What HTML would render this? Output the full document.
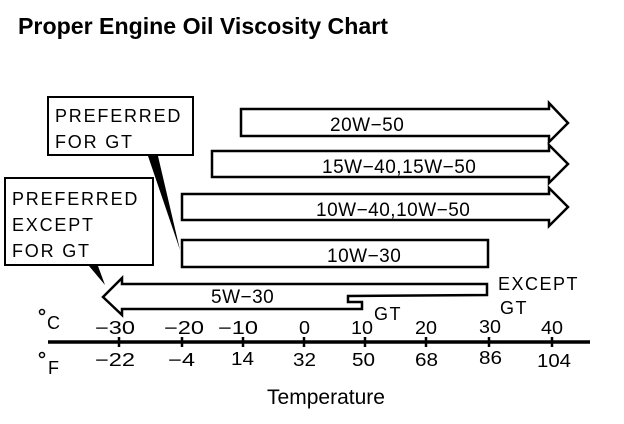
<!DOCTYPE html>
<html><head><style>
body{margin:0;background:#fff;}
svg{display:block;font-family:"Liberation Sans",sans-serif;}
</style></head><body>
<svg width="624" height="424" viewBox="0 0 624 424">
<text x="18" y="34" font-size="23" font-weight="bold" fill="#000" textLength="370" lengthAdjust="spacingAndGlyphs">Proper Engine Oil Viscosity Chart</text>
<g fill="#fff" stroke="#000" stroke-width="2.5" stroke-linejoin="miter">
<polygon points="241,109 549,109 549,103 568,123 549,142 549,136 241,136"/>
<polygon points="212,151 549,151 549,145 568,164 549,183 549,177 212,177"/>
<polygon points="182,194 549,194 549,188 568,207 549,226 549,220 182,220"/>
<rect x="182" y="240" width="306" height="27"/>
<polygon points="122,284 487,284 487,295 348,296 348,302 362,302 362,309 122,309 122,315 103,297 122,278"/>
</g>
<g font-size="19" fill="#000" letter-spacing="0.5">
<text x="330" y="131">20W−50</text>
<text x="322" y="173">15W−40,15W−50</text>
<text x="316" y="216">10W−40,10W−50</text>
<text x="327" y="262">10W−30</text>
<text x="211" y="303">5W−30</text>
</g>
<g font-size="18" fill="#000" letter-spacing="1.5">
<text x="498" y="290">EXCEPT</text>
<text x="500" y="314">GT</text>
<text x="374" y="320">GT</text>
</g>
<rect x="48" y="97" width="145" height="58" fill="#fff" stroke="#000" stroke-width="2"/>
<text x="55" y="122" font-size="18" letter-spacing="1.8">PREFERRED</text>
<text x="55" y="148" font-size="18" letter-spacing="1.8">FOR GT</text>
<polygon points="148,156 158,156 180,250" fill="#000"/>
<rect x="5" y="178" width="148" height="87" fill="#fff" stroke="#000" stroke-width="2"/>
<text x="12" y="205" font-size="18" letter-spacing="1.8">PREFERRED</text>
<text x="12" y="231" font-size="18" letter-spacing="1.8">EXCEPT</text>
<text x="12" y="257" font-size="18" letter-spacing="1.8">FOR GT</text>
<polygon points="89,266 98,266 105,285" fill="#000"/>
<line x1="48" y1="342" x2="590" y2="342" stroke="#000" stroke-width="3.5"/>
<g stroke="#000" stroke-width="2.5">
<line x1="119" y1="337" x2="119" y2="347"/><line x1="182" y1="337" x2="182" y2="347"/>
<line x1="243" y1="337" x2="243" y2="347"/><line x1="304" y1="337" x2="304" y2="347"/>
<line x1="365" y1="337" x2="365" y2="347"/><line x1="426" y1="337" x2="426" y2="347"/>
<line x1="489" y1="337" x2="489" y2="347"/><line x1="552" y1="337" x2="552" y2="347"/>
</g>
<g font-size="18" fill="#000" lengthAdjust="spacingAndGlyphs">
<text x="95" y="334" textLength="40" lengthAdjust="spacingAndGlyphs">−30</text>
<text x="164" y="334" textLength="40" lengthAdjust="spacingAndGlyphs">−20</text>
<text x="218" y="334" textLength="40" lengthAdjust="spacingAndGlyphs">−10</text>
<text x="299" y="334" textLength="11" lengthAdjust="spacingAndGlyphs">0</text>
<text x="351" y="334" textLength="22" lengthAdjust="spacingAndGlyphs">10</text>
<text x="415" y="334" textLength="22" lengthAdjust="spacingAndGlyphs">20</text>
<text x="479" y="333" textLength="22" lengthAdjust="spacingAndGlyphs">30</text>
<text x="541" y="334" textLength="22" lengthAdjust="spacingAndGlyphs">40</text>
<text x="95" y="366" textLength="40" lengthAdjust="spacingAndGlyphs">−22</text>
<text x="168" y="366" textLength="27" lengthAdjust="spacingAndGlyphs">−4</text>
<text x="231" y="365" textLength="23" lengthAdjust="spacingAndGlyphs">14</text>
<text x="293" y="366" textLength="23" lengthAdjust="spacingAndGlyphs">32</text>
<text x="352" y="366" textLength="23" lengthAdjust="spacingAndGlyphs">50</text>
<text x="415" y="366" textLength="23" lengthAdjust="spacingAndGlyphs">68</text>
<text x="479" y="364" textLength="23" lengthAdjust="spacingAndGlyphs">86</text>
<text x="537" y="367" textLength="34" lengthAdjust="spacingAndGlyphs">104</text>
</g>
<text x="326" y="404" font-size="21" text-anchor="middle">Temperature</text>
<circle cx="42" cy="312" r="2.5" fill="none" stroke="#000" stroke-width="1.5"/>
<text x="47" y="329" font-size="18">C</text>
<circle cx="42" cy="355" r="2.5" fill="none" stroke="#000" stroke-width="1.5"/>
<text x="48" y="374" font-size="18">F</text>
</svg>
</body></html>
